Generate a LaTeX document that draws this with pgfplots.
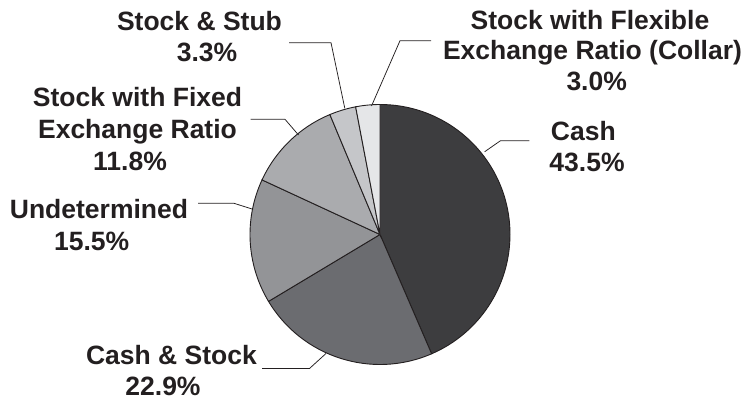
\documentclass[border=0pt]{standalone}
\usepackage{pgfplots}
\pgfplotsset{compat=1.18}
\usepackage{fontspec}
\setmainfont{Liberation Sans}
\definecolor{cA}{HTML}{3D3D3F}
\definecolor{cB}{HTML}{6B6C70}
\definecolor{cC}{HTML}{939497}
\definecolor{cD}{HTML}{AAABAE}
\definecolor{cE}{HTML}{C5C6C9}
\definecolor{cF}{HTML}{E5E6E8}
\definecolor{ink}{HTML}{231F20}
\begin{document}
\begin{tikzpicture}
\begin{axis}[width=745pt, height=400pt, scale only axis,
  xmin=0, xmax=745, ymin=0, ymax=400, hide axis, clip=false]
% full canvas (bounding box)
\path (axis cs:0,0) rectangle (axis cs:745,400);
% wedges: values 43.5, 22.9, 15.5, 11.8, 3.3, 3.0 (percent), clockwise from top
\filldraw[fill=cA, draw=ink, line width=0.9pt] (axis cs:380,165.5) -- ++(90:130pt)
  arc[start angle=90, end angle={90-3.6*43.5}, radius=130pt] -- cycle;
\filldraw[fill=cB, draw=ink, line width=0.9pt] (axis cs:380,165.5) -- ++({90-3.6*43.5}:130pt)
  arc[start angle={90-3.6*43.5}, end angle={90-3.6*(43.5+22.9)}, radius=130pt] -- cycle;
\filldraw[fill=cC, draw=ink, line width=0.9pt] (axis cs:380,165.5) -- ++({90-3.6*(43.5+22.9)}:130pt)
  arc[start angle={90-3.6*(43.5+22.9)}, end angle={90-3.6*(43.5+22.9+15.5)}, radius=130pt] -- cycle;
\filldraw[fill=cD, draw=ink, line width=0.9pt] (axis cs:380,165.5) -- ++({90-3.6*(43.5+22.9+15.5)}:130pt)
  arc[start angle={90-3.6*(43.5+22.9+15.5)}, end angle={90-3.6*(43.5+22.9+15.5+11.8)}, radius=130pt] -- cycle;
\filldraw[fill=cE, draw=ink, line width=0.9pt] (axis cs:380,165.5) -- ++({90-3.6*(43.5+22.9+15.5+11.8)}:130pt)
  arc[start angle={90-3.6*(43.5+22.9+15.5+11.8)}, end angle={90-3.6*(43.5+22.9+15.5+11.8+3.3)}, radius=130pt] -- cycle;
\filldraw[fill=cF, draw=ink, line width=0.9pt] (axis cs:380,165.5) -- ++({90-3.6*(43.5+22.9+15.5+11.8+3.3)}:130pt)
  arc[start angle={90-3.6*(43.5+22.9+15.5+11.8+3.3)}, end angle={90-3.6*(43.5+22.9+15.5+11.8+3.3+3.0)}, radius=130pt] -- cycle;
% leader lines
\addplot[ink, line width=0.75pt, mark=none] coordinates {(289,357.3) (331,357.3) (344.8,291.7)};
\addplot[ink, line width=0.75pt, mark=none] coordinates {(431,359.3) (400,359.3) (371.5,294)};
\addplot[ink, line width=0.75pt, mark=none] coordinates {(250.7,280.7) (285,280.7) (298.5,265)};
\addplot[ink, line width=0.75pt, mark=none] coordinates {(198,196.7) (234,196.7) (253,190.7)};
\addplot[ink, line width=0.75pt, mark=none] coordinates {(262,31.5) (309.5,31.5) (326,46.5)};
\addplot[ink, line width=0.75pt, mark=none] coordinates {(529.3,259.3) (500.5,259.3) (484.7,248.3)};
% labels
\tikzset{lbl/.style={anchor=base, inner sep=0pt, text=ink, font=\fontsize{26.5}{31}\selectfont\bfseries}}
\node[lbl] at (axis cs:199.5,369.5) {Stock \& Stub};
\node[lbl] at (axis cs:207,338) {3.3\%};
\node[lbl] at (axis cs:590,370) {Stock with Flexible};
\node[lbl] at (axis cs:592.5,340) {Exchange Ratio (Collar)};
\node[lbl] at (axis cs:596.7,309.3) {3.0\%};
\node[lbl] at (axis cs:583.3,260) {Cash};
\node[lbl] at (axis cs:587,229) {43.5\%};
\node[lbl] at (axis cs:137.5,293.3) {Stock with Fixed};
\node[lbl] at (axis cs:137.5,261.5) {Exchange Ratio};
\node[lbl] at (axis cs:130,229.5) {11.8\%};
\node[lbl] at (axis cs:99,182) {Undetermined};
\node[lbl] at (axis cs:91.7,150) {15.5\%};
\node[lbl] at (axis cs:171.5,35.7) {Cash \& Stock};
\node[lbl] at (axis cs:163,5) {22.9\%};
\end{axis}
\end{tikzpicture}
\end{document}
